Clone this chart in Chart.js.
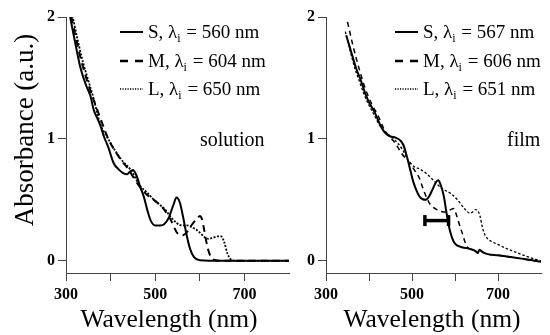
<!DOCTYPE html>
<html><head><meta charset="utf-8">
<script src="https://cdn.jsdelivr.net/npm/chart.js@4.4.0/dist/chart.umd.min.js"></script>
<style>
html,body{margin:0;padding:0;background:#fff;}
#wrap{position:relative;width:550px;height:335px;overflow:hidden;background:#fff;}
canvas{position:absolute;top:0;}
#c1{left:0;} #c2{left:292px;}
</style></head><body>
<div id="wrap"><canvas id="c1" width="292" height="335"></canvas><canvas id="c2" width="258" height="335"></canvas></div>
<script>
// ---------- data ----------
const xTickValues = [300, 400, 500, 600, 700];
const xTickLabels = ['300', '', '500', '', '700'];
const yTickValues = [0, 1, 2];
const seriesNames = ['S', 'M', 'L'];
const solutionLambda = [560, 604, 650];
const filmLambda = [567, 606, 651];
const panelLabels = ['solution', 'film'];
const xTitle = 'Wavelength (nm)';
const yTitle = 'Absorbance (a.u.)';

// solution panel
const solS_wl  = [305, 310, 320, 332, 345, 355, 362, 370, 377, 385, 395, 407, 418, 428, 437, 443, 450, 458, 467, 475, 482, 490, 500, 512, 520, 530, 540, 548, 555, 562, 570, 578, 587, 600, 650, 700, 750, 800];
const solS_abs = [2.10, 1.99, 1.80, 1.59, 1.44, 1.35, 1.24, 1.17, 1.11, 1.02, 0.93, 0.80, 0.75, 0.72, 0.71, 0.73, 0.745, 0.70, 0.60, 0.52, 0.42, 0.33, 0.29, 0.29, 0.30, 0.35, 0.45, 0.52, 0.48, 0.37, 0.22, 0.10, 0.03, 0.005, 0, 0, 0, 0];
const solM_wl  = [305, 312, 322, 335, 348, 360, 372, 382, 395, 410, 425, 440, 452, 467, 482, 497, 510, 520, 535, 550, 561, 572, 583, 595, 600, 605, 610, 617, 625, 635, 650, 700, 800];
const solM_abs = [2.10, 2.00, 1.83, 1.63, 1.47, 1.34, 1.22, 1.12, 1.00, 0.90, 0.82, 0.75, 0.68, 0.60, 0.54, 0.50, 0.46, 0.42, 0.335, 0.225, 0.21, 0.24, 0.30, 0.35, 0.367, 0.34, 0.25, 0.115, 0.03, 0.005, 0, 0, 0];
const solL_wl  = [305, 315, 325, 338, 350, 362, 377, 390, 400, 422, 445, 467, 482, 497, 510, 520, 535, 548, 560, 572, 580, 590, 602, 612, 620, 630, 640, 648, 655, 662, 670, 680, 750, 800];
const solL_abs = [2.12, 2.00, 1.83, 1.63, 1.48, 1.33, 1.12, 1.03, 0.965, 0.84, 0.745, 0.61, 0.56, 0.50, 0.46, 0.43, 0.36, 0.31, 0.29, 0.29, 0.28, 0.26, 0.225, 0.19, 0.18, 0.19, 0.20, 0.20, 0.15, 0.06, 0.01, 0, 0, 0];

// film panel
const filmS_wl  = [347, 358, 370, 380, 391, 400, 413, 428, 440, 450, 462, 472, 480, 487, 495, 502, 510, 517, 525, 532, 540, 547, 555, 561, 567, 574, 580, 588, 598, 613, 632, 645, 650, 653, 657, 665, 676, 700, 721, 750, 780, 800];
const filmS_abs = [1.85, 1.72, 1.58, 1.49, 1.375, 1.30, 1.22, 1.10, 1.04, 1.02, 1.01, 0.99, 0.95, 0.87, 0.76, 0.66, 0.58, 0.53, 0.505, 0.50, 0.53, 0.58, 0.64, 0.66, 0.62, 0.53, 0.40, 0.25, 0.15, 0.115, 0.10, 0.085, 0.07, 0.065, 0.09, 0.07, 0.055, 0.045, 0.035, 0.02, 0.005, -0.01];
const filmM_wl  = [350, 361, 372, 385, 397, 410, 420, 435, 445, 461, 476, 490, 499, 510, 517, 525, 535, 543, 558, 576, 590, 597, 603, 610, 617, 628, 643, 650, 653, 657, 665, 676, 700, 750, 800];
const filmM_abs = [1.96, 1.79, 1.64, 1.48, 1.36, 1.26, 1.20, 1.08, 1.03, 0.965, 0.88, 0.82, 0.78, 0.72, 0.68, 0.60, 0.51, 0.46, 0.42, 0.40, 0.42, 0.43, 0.38, 0.30, 0.225, 0.115, 0.09, 0.075, 0.065, 0.09, 0.07, 0.055, 0.045, 0.02, -0.01];
const filmL_wl  = [345, 355, 367, 378, 388, 398, 410, 425, 440, 455, 468, 480, 490, 497, 506, 517, 532, 550, 569, 591, 606, 624, 635, 641, 647, 653, 658, 664, 670, 676, 690, 702, 720, 739, 760, 780, 800];
const filmL_abs = [1.88, 1.74, 1.58, 1.47, 1.37, 1.29, 1.21, 1.11, 1.05, 1.01, 0.96, 0.90, 0.83, 0.80, 0.77, 0.755, 0.72, 0.66, 0.595, 0.55, 0.50, 0.42, 0.39, 0.40, 0.42, 0.41, 0.37, 0.27, 0.21, 0.18, 0.15, 0.13, 0.10, 0.074, 0.045, 0.02, 0.0];

// film range bar
const barWl  = [530, 585];
const barAbs = [0.33, 0.33];

// ---------- helpers ----------
const FONT = '"Liberation Serif", "Times New Roman", serif';
const pts = (xs, ys) => xs.map((x, i) => ({x: x, y: ys[i]}));
const AXIS = '#444';

function scalesCfg(yWidth, xHeight) {
  return {
    x: {
      type: 'linear', min: 300, max: 800,
      afterBuildTicks: s => { s.ticks = xTickValues.map(v => ({value: v})); },
      afterFit: s => { s.height = xHeight; },
      grid: {drawOnChartArea: false, drawTicks: true, tickLength: 8, tickColor: AXIS, tickWidth: 1},
      border: {display: true, color: AXIS, width: 1},
      ticks: {
        padding: 4, color: '#000', maxRotation: 0, autoSkip: false,
        font: {family: FONT, size: 16, weight: 'bold'},
        callback: v => { const i = xTickValues.indexOf(v); return i >= 0 ? xTickLabels[i] : ''; }
      }
    },
    y: {
      type: 'linear', min: -0.1, max: 2,
      afterBuildTicks: s => { s.ticks = yTickValues.map(v => ({value: v})); },
      afterFit: s => { s.width = yWidth; },
      grid: {drawOnChartArea: false, drawTicks: true, tickLength: 8, tickColor: AXIS, tickWidth: 1},
      border: {display: true, color: AXIS, width: 1},
      ticks: {padding: 3, color: '#000', font: {family: FONT, size: 16, weight: 'bold'}, callback: v => String(v)}
    }
  };
}

function textPlugin(o) {
  return {
    id: 'panelText',
    afterDraw(chart) {
      const ctx = chart.ctx;
      ctx.save();
      ctx.fillStyle = '#000';
      ctx.strokeStyle = '#000';
      // legend
      const rows = [32, 61, 89];
      const dashes = [[], [8, 7], [1.2, 1.3]];
      const widths = [2, 2.5, 1.5];
      seriesNames.forEach((n, i) => {
        const y = rows[i];
        ctx.beginPath();
        ctx.setLineDash(dashes[i]);
        ctx.lineWidth = widths[i];
        ctx.moveTo(o.legX, y); ctx.lineTo(o.legX + 23, y);
        ctx.stroke();
        ctx.setLineDash([]);
        let x = o.legX + 28;
        const by = y + 6;
        ctx.textAlign = 'left'; ctx.textBaseline = 'alphabetic';
        ctx.font = '19px ' + FONT;
        const a = n + ', λ';
        ctx.fillText(a, x, by); x += ctx.measureText(a).width;
        ctx.font = '12px ' + FONT;
        ctx.fillText('i', x, by + 4); x += ctx.measureText('i').width + 1;
        ctx.font = '19px ' + FONT;
        ctx.fillText(' = ' + o.lambdas[i] + ' nm', x, by);
      });
      // panel label
      ctx.font = '20px ' + FONT;
      ctx.fillText(o.label, o.labX, 146);
      // x title
      ctx.font = '25.5px ' + FONT;
      ctx.textAlign = 'center';
      ctx.fillText(xTitle, o.xtX, 327);
      // y title
      if (o.yTitle) {
        ctx.save();
        ctx.translate(33, 130);
        ctx.rotate(-Math.PI / 2);
        ctx.font = '27px ' + FONT;
        ctx.textAlign = 'center';
        ctx.fillText(yTitle, 0, 0);
        ctx.restore();
      }
      ctx.restore();
    }
  };
}

Chart.defaults.animation = false;

function makeChart(id, sets, yWidth, padRight, plug) {
  return new Chart(document.getElementById(id), {
    type: 'line',
    data: {datasets: sets},
    options: {
      responsive: false, devicePixelRatio: 1, animation: false,
      layout: {padding: {top: 17, left: 0, right: padRight, bottom: 0}},
      plugins: {legend: {display: false}, tooltip: {enabled: false}},
      scales: scalesCfg(yWidth, 62),
      elements: {point: {radius: 0}, line: {cubicInterpolationMode: 'monotone'}}
    },
    plugins: [plug]
  });
}

const lineSet = (data, dash, w) => ({data: data, borderColor: '#000', borderWidth: w, borderDash: dash, pointRadius: 0, fill: false});

makeChart('c1', [
  lineSet(pts(solS_wl, solS_abs), [], 2),
  lineSet(pts(solM_wl, solM_abs), [7, 5], 2),
  lineSet(pts(solL_wl, solL_abs), [2, 1.5], 1.8)
], 66, 3, textPlugin({legX: 120, lambdas: solutionLambda, label: panelLabels[0], labX: 200, xtX: 169, yTitle: true}));

makeChart('c2', [
  lineSet(pts(filmS_wl, filmS_abs), [], 2),
  lineSet(pts(filmM_wl, filmM_abs), [5, 4], 1.5),
  lineSet(pts(filmL_wl, filmL_abs), [2.5, 2], 1.3),
  {data: pts(barWl, barAbs), borderColor: '#000', borderWidth: 3.5, pointStyle: 'line', pointRotation: 90,
   pointRadius: 5.5, pointBorderWidth: 3.5, pointBorderColor: '#000', cubicInterpolationMode: 'default', tension: 0}
], 34, 0, textPlugin({legX: 103, lambdas: filmLambda, label: panelLabels[1], labX: 215, xtX: 140, yTitle: false}));
</script>
</body></html>
